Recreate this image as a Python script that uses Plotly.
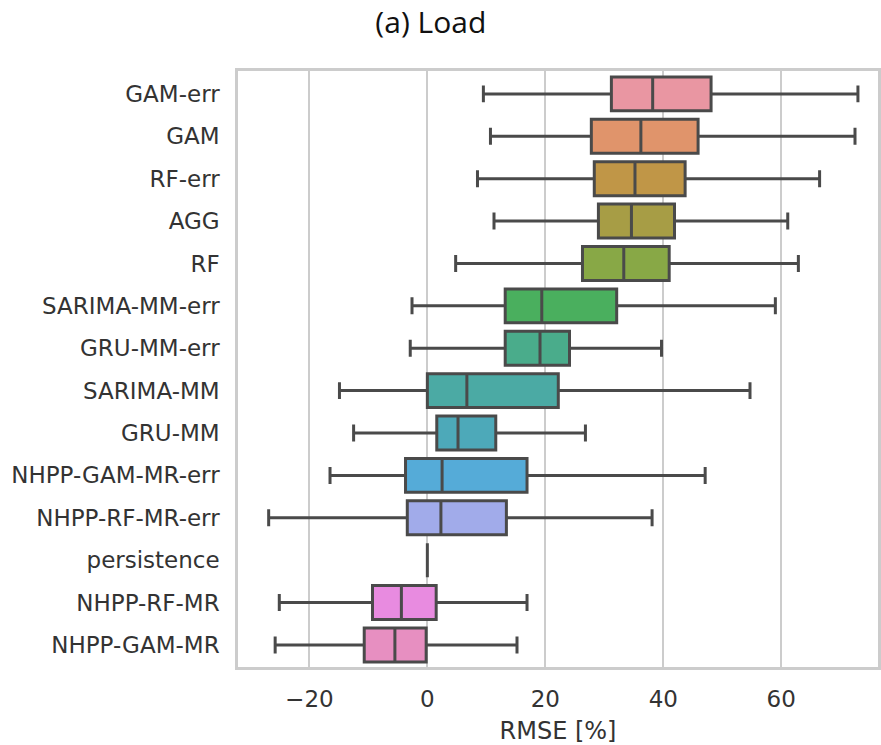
import plotly.graph_objects as go

# models, top to bottom
models = ["GAM-err", "GAM", "RF-err", "AGG", "RF", "SARIMA-MM-err", "GRU-MM-err",
          "SARIMA-MM", "GRU-MM", "NHPP-GAM-MR-err", "NHPP-RF-MR-err", "persistence",
          "NHPP-RF-MR", "NHPP-GAM-MR"]

# box statistics (RMSE [%])
lower = [9.5, 10.7, 8.5, 11.3, 4.8, -2.6, -2.9, -14.9, -12.5, -16.5, -26.9, 0.0, -25.1, -25.8]
q1 = [31.2, 27.8, 28.3, 29.0, 26.3, 13.2, 13.2, 0.0, 1.6, -3.7, -3.4, 0.0, -9.3, -10.7]
median = [38.2, 36.2, 35.2, 34.6, 33.3, 19.4, 19.1, 6.7, 5.2, 2.5, 2.3, 0.0, -4.4, -5.5]
q3 = [48.1, 45.9, 43.7, 41.9, 41.0, 32.1, 24.1, 22.2, 11.6, 16.9, 13.4, 0.0, 1.5, -0.2]
upper = [73.0, 72.5, 66.5, 61.1, 62.9, 59.0, 39.7, 54.7, 26.8, 47.1, 38.1, 0.0, 16.9, 15.2]

colors = ["#E996A2", "#E0946B", "#C09647", "#A79D45", "#88A846", "#4AAF5E", "#4AAC8B",
          "#4BAAA4", "#4DA9B9", "#55ABD8", "#A1ABEA", "#C898E8", "#E88BE0", "#E78FC1"]

fig = go.Figure()
for i, m in enumerate(models):
    fig.add_trace(go.Box(
        y=[m], q1=[q1[i]], median=[median[i]], q3=[q3[i]],
        lowerfence=[lower[i]], upperfence=[upper[i]],
        orientation="h", boxpoints=False, width=0.8, whiskerwidth=0.5,
        fillcolor=colors[i], line=dict(color="#4a4a4a", width=3),
        name=m, showlegend=False, hoverinfo="x"
    ))

fig.update_layout(
    width=881, height=745,
    margin=dict(l=238, r=3, t=71, b=78, autoexpand=False),
    paper_bgcolor="white", plot_bgcolor="white",
    font=dict(family="DejaVu Sans", size=23, color="#333333"),
    title=dict(text="(a) Load", x=0.489, xanchor="center", y=0.97, yanchor="middle",
               font=dict(family="Open Sans", size=30, color="#111111")),
    boxmode="overlay",
)
fig.update_xaxes(
    range=[-32.1, 76.4], tickvals=[-20, 0, 20, 40, 60],
    ticktext=["\u221220", "0", "20", "40", "60"],
    showgrid=True, gridcolor="#cccccc", gridwidth=1.5, zeroline=False,
    showline=True, linecolor="#cccccc", linewidth=2.5, mirror=True,
    ticks="", ticklabelstandoff=10, automargin=False,
    title=dict(text="RMSE [%]", font=dict(size=24), standoff=12),
)
fig.update_yaxes(
    type="category", categoryorder="array", categoryarray=models,
    range=[13.52, -0.54], showgrid=False, zeroline=False,
    showline=True, linecolor="#cccccc", linewidth=2.5, mirror=True,
    ticks="", ticklabelstandoff=11, automargin=False,
)

# drop the browser's default body margin so the figure sits at the page corner
fig.write_html("out.html", config={"displayModeBar": False},
               post_script="document.body.style.margin='0';")
